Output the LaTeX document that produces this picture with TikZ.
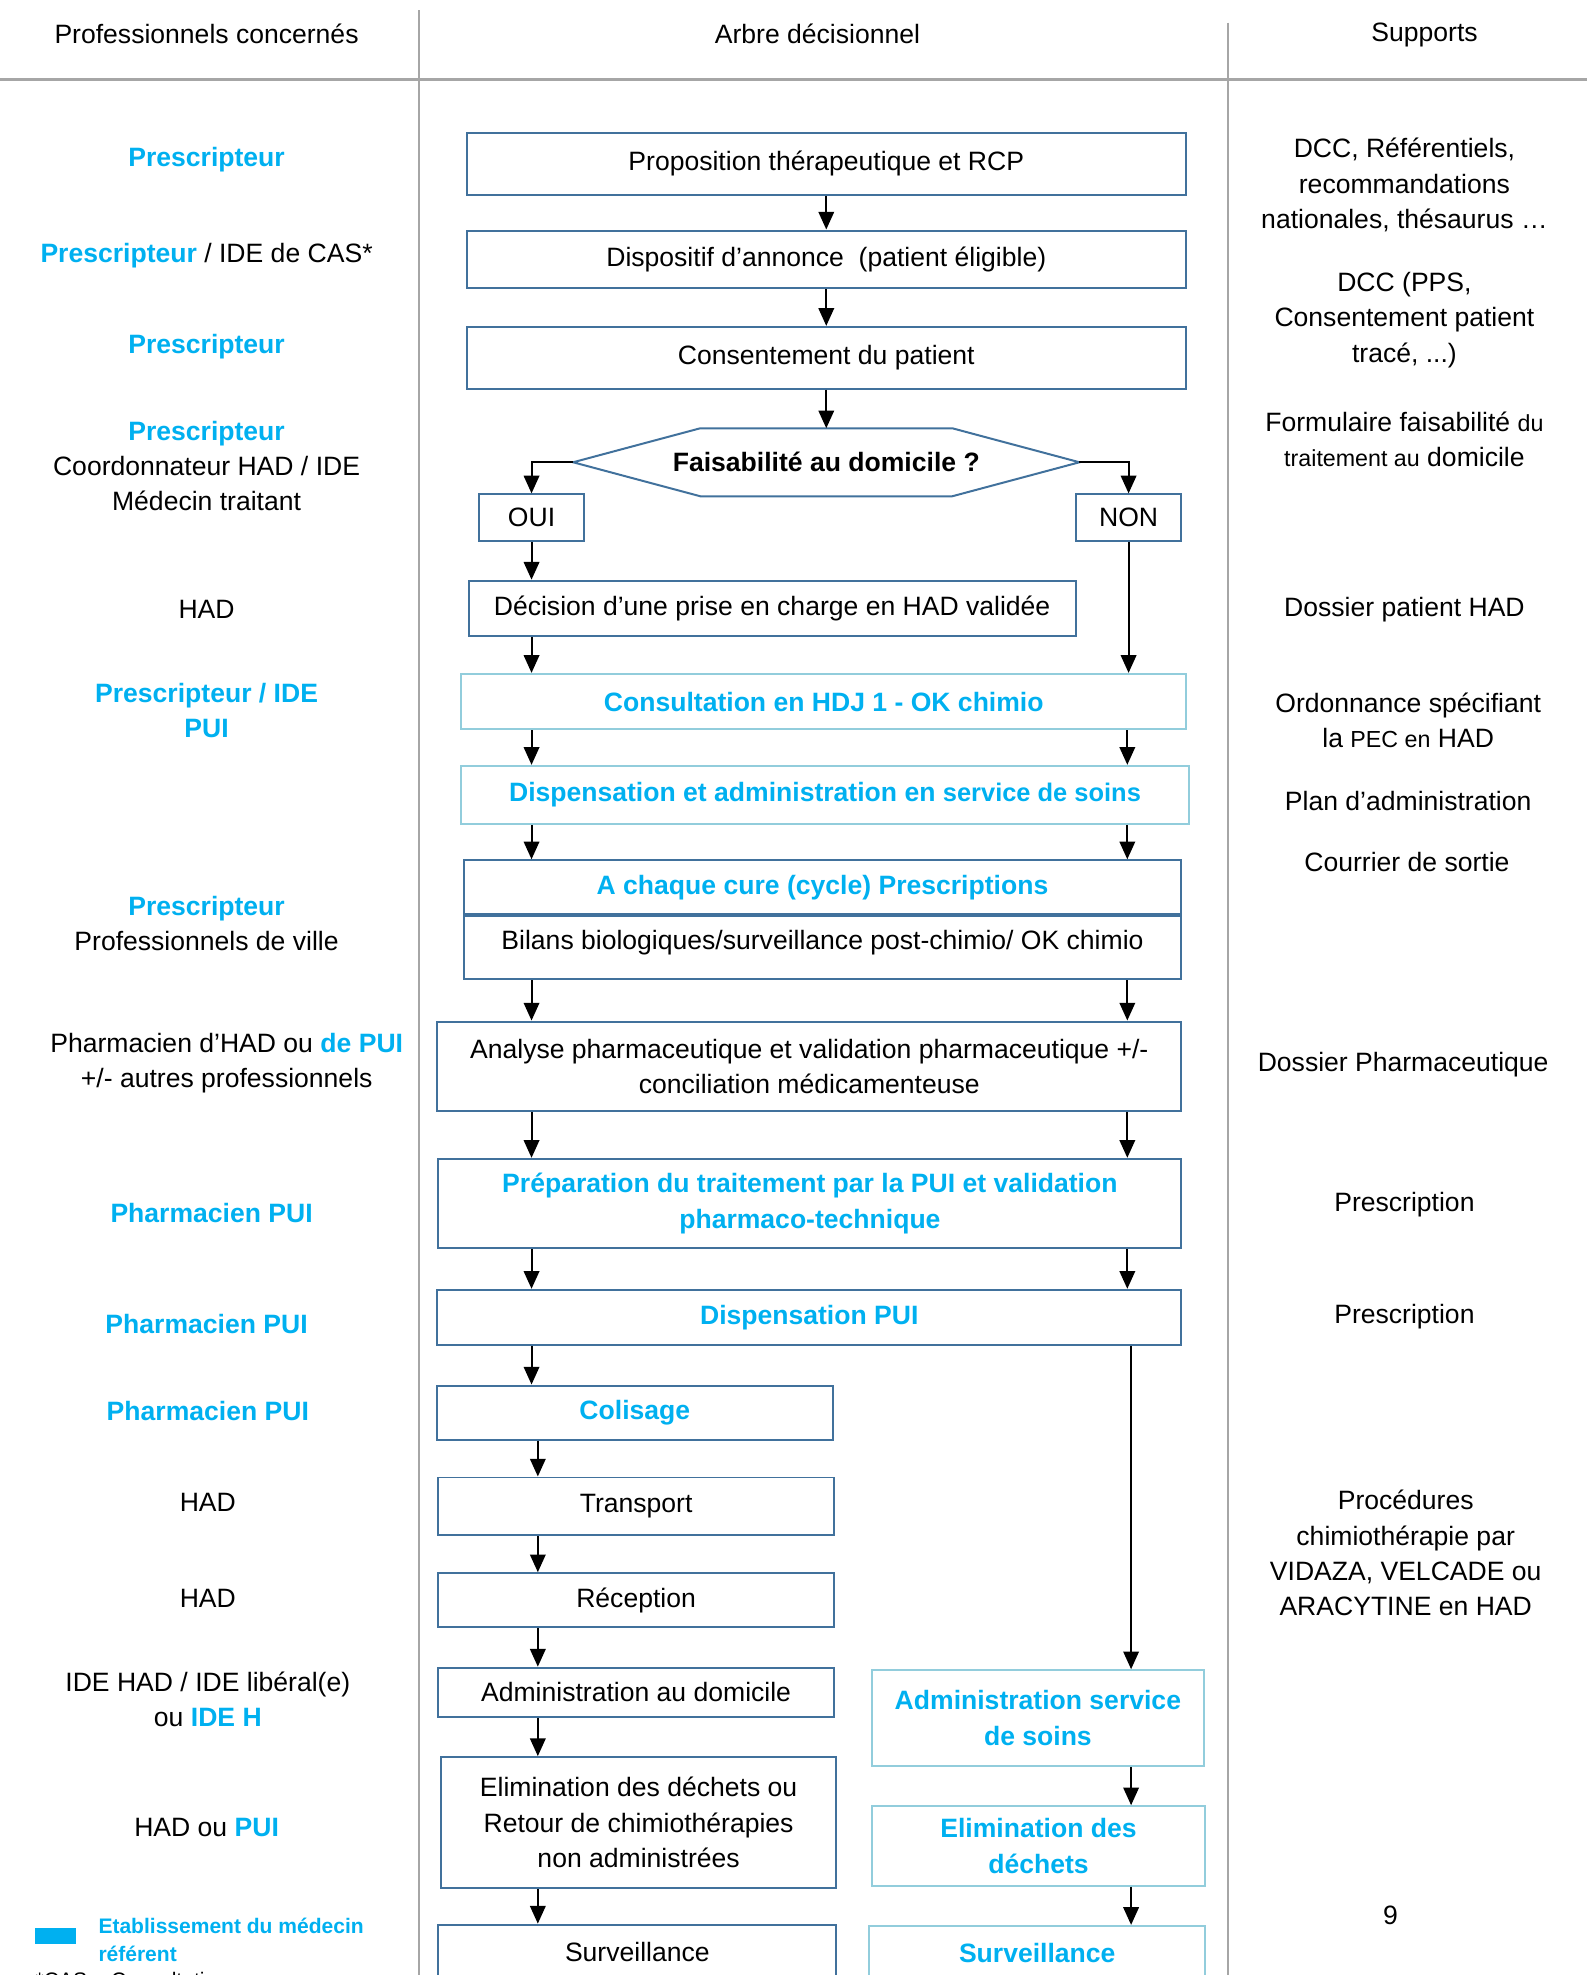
\documentclass[tikz,border=0pt]{standalone}
\usepackage{fontspec}
\setmainfont{Liberation Sans}
\usetikzlibrary{arrows.meta,calc}
\definecolor{hotblue}{HTML}{00B0F0}
\definecolor{frameblue}{HTML}{41719C}
\definecolor{softframe}{HTML}{92CDDC}
\definecolor{rulegray}{HTML}{A6A6A6}
\newcommand{\hot}[1]{\textcolor{hotblue}{\bfseries #1}}
\newcommand{\smallpart}[1]{{\fontsize{10.5}{14}\selectfont #1}}
\tikzset{
    box/.style={draw=frameblue, line width=0.9pt, inner sep=2pt, align=center,
                font=\fontsize{12}{16}\selectfont},
    softbox/.style={box, draw=softframe},
    hotbox/.style={text=hotblue, font=\fontsize{12}{16}\selectfont\bfseries},
    flow/.style={-{Triangle[length=8pt,width=7pt]}, line width=0.9pt},
    who/.style={align=center, font=\fontsize{12}{16}\selectfont},
    rule/.style={draw=rulegray, line width=0.9pt},
}

\begin{document}
\begin{tikzpicture}[x=0.02cm, y=-0.02cm]

    \useasboundingbox (0,0) rectangle (1260,1568);
    \clip (0,0) rectangle (1260,1568);

    % header and column rules
    \node[who] (hwho) at (164,27) {Professionnels concernés};
    \node[who] (htree) at (649,27) {Arbre décisionnel};
    \node[who] (hsup) at (1131,28) {Supports};
    \draw[rule, line width=1.6pt] (0,63) -- (1260,63);
    \draw[rule] (333,8) -- (333,1568);
    \draw[rule] (975,18) -- (975,1568);

    % professionals
    \node[who] (w1) at (164,127) {\hot{Prescripteur}};
    \node[who] (w2) at (164,203) {\hot{Prescripteur} / IDE de CAS*};
    \node[who] (w3) at (164,275) {\hot{Prescripteur}};
    \node[who] (w4) at (164,370) {\hot{Prescripteur}\\Coordonnateur HAD / IDE\\Médecin traitant};
    \node[who] (w5) at (164,484) {HAD};
    \node[who] (w6) at (164,564) {\hot{Prescripteur / IDE}\\\hot{PUI}};
    \node[who] (w7) at (164,733) {\hot{Prescripteur}\\Professionnels de ville};
    \node[who] (w8) at (180,844) {Pharmacien d’HAD ou \hot{de PUI}\\+/- autres professionnels};
    \node[who] (w9) at (168,963) {\hot{Pharmacien PUI}};
    \node[who] (w10) at (164,1051) {\hot{Pharmacien PUI}};
    \node[who] (w11) at (165,1120) {\hot{Pharmacien PUI}};
    \node[who] (w12) at (165,1193) {HAD};
    \node[who] (w13) at (165,1269) {HAD};
    \node[who] (w14) at (165,1349) {IDE HAD / IDE libéral(e)\\ou \hot{IDE H}};
    \node[who] (w15) at (164,1451) {HAD ou \hot{PUI}};

    % legend
    \node[fill=hotblue, minimum width=0.64cm, minimum height=0.24cm, inner sep=0pt] (legkey) at (44,1537) {};
    \node[anchor=west, align=left, text=hotblue, font=\fontsize{9.5}{12.5}\selectfont\bfseries] (legtext) at (72,1540) {Etablissement du médecin\\référent};
    \node[anchor=base west, inner sep=0pt, font=\fontsize{9.5}{12}\selectfont] (casnote) at (28,1578) {*CAS = Consultation};

    % supports
    \node[who] (s1) at (1115,147) {DCC, Référentiels,\\recommandations\\nationales, thésaurus …};
    \node[who] (s2) at (1115,254) {DCC (PPS,\\Consentement patient\\tracé, ...)};
    \node[who] (s3) at (1115,349) {Formulaire faisabilité \smallpart{du}\\\smallpart{traitement au} domicile};
    \node[who] (s4) at (1115,484) {Dossier patient HAD};
    \node[who] (s5) at (1118,572) {Ordonnance spécifiant\\la \smallpart{PEC en} HAD};
    \node[who] (s6) at (1118,636) {Plan d’administration};
    \node[who] (s7) at (1117,684) {Courrier de sortie};
    \node[who] (s8) at (1114,845) {Dossier Pharmaceutique};
    \node[who] (s9) at (1115,956) {Prescription};
    \node[who] (s10) at (1115,1045) {Prescription};
    \node[who] (s11) at (1116,1233) {Procédures\\chimiothérapie par\\VIDAZA, VELCADE ou\\ARACYTINE en HAD};
    \node[who] (pageno) at (1104,1521) {9};

    % decision tree
    \node[box, minimum width=11.42cm, minimum height=0.98cm] (prop) at (656,130) {Proposition thérapeutique et RCP};
    \node[box, minimum width=11.42cm, minimum height=0.92cm] (annonce) at (656,206) {Dispositif d’annonce\ \ (patient éligible)};
    \node[box, minimum width=11.42cm, minimum height=0.98cm] (consent) at (656,284) {Consentement du patient};
    \coordinate (hexL) at (455,367);
    \coordinate (hexR) at (857,367);
    \coordinate (hexT) at (656,340);
    \draw[draw=frameblue, line width=0.9pt] (hexL) -- (556,340) -- (756,340) -- (hexR) -- (756,394) -- (556,394) -- cycle;
    \node[font=\fontsize{12}{16}\selectfont\bfseries] (faisa) at (656,367) {Faisabilité au domicile ?};
    \node[box, minimum width=1.68cm, minimum height=0.74cm] (oui) at (422,411) {OUI};
    \node[box, minimum width=1.68cm, minimum height=0.74cm] (non) at (896,411) {NON};
    \node[box, minimum width=9.64cm, minimum height=0.88cm] (decision) at (613,483) {Décision d’une prise en charge en HAD validée};
    \node[softbox, hotbox, minimum width=11.52cm, minimum height=0.88cm] (hdj) at (654,557) {Consultation en HDJ 1 - OK chimio};
    \node[softbox, hotbox, minimum width=11.56cm, minimum height=0.92cm] (soins) at (655,631) {Dispensation et administration en {\fontsize{11.5}{14}\selectfont service de soins}};
    \node[box, hotbox, minimum width=11.4cm, minimum height=0.86cm] (cure) at (653,704.5) {A chaque cure (cycle) Prescriptions};
    \node[box, minimum width=11.4cm, minimum height=1cm, text depth=7pt, anchor=north] (bilans) at (cure.south) {Bilans biologiques/surveillance post-chimio/ OK chimio};
    \node[box, minimum width=11.82cm, minimum height=1.42cm] (analyse) at (642.5,846.5) {Analyse pharmaceutique et validation pharmaceutique +/-\\conciliation médicamenteuse};
    \node[box, hotbox, minimum width=11.8cm, minimum height=1.42cm] (prep) at (643,955.5) {Préparation du traitement par la PUI et validation\\pharmaco-technique};
    \node[box, hotbox, minimum width=11.82cm, minimum height=0.88cm] (disppui) at (642.5,1046) {Dispensation PUI};
    \node[box, hotbox, minimum width=6.28cm, minimum height=0.86cm] (colis) at (504,1121.5) {Colisage};
    \node[box, minimum width=6.28cm, minimum height=0.92cm] (transport) at (505,1196) {Transport};
    \node[box, minimum width=6.28cm, minimum height=0.86cm] (recep) at (505,1270.5) {Réception};
    \node[box, minimum width=6.28cm, minimum height=0.78cm] (admdom) at (505,1343.5) {Administration au domicile};
    \node[box, minimum width=6.28cm, minimum height=2.08cm] (elim) at (507,1447) {Elimination des déchets ou\\Retour de chimiothérapies\\non administrées};
    \node[box, minimum width=6.32cm, minimum height=0.88cm] (surv) at (506,1550) {Surveillance};
    \node[softbox, hotbox, minimum width=5.28cm, minimum height=1.52cm] (admserv) at (824,1364) {Administration service\\de soins};
    \node[softbox, hotbox, minimum width=5.3cm, minimum height=1.26cm] (elimdech) at (824.5,1465.5) {Elimination des\\déchets};
    \node[softbox, hotbox, minimum width=5.34cm, minimum height=0.86cm] (survsoin) at (823.5,1550.5) {Surveillance};

    % connectors
    \coordinate (L) at (422,0);
    \coordinate (R) at (895,0);
    \coordinate (Ld) at (427,0);
    \coordinate (Rd) at (898,0);
    \draw[flow] (prop) -- (annonce);
    \draw[flow] (annonce) -- (consent);
    \draw[flow] (consent) -- (hexT);
    \draw[flow] (hexL) -| (oui.north);
    \draw[flow] (hexR) -| (non.north);
    \draw[flow] (oui.south) -- (oui.south |- decision.north);
    \draw[flow] (non.south) -- (non.south |- hdj.north);
    \draw[flow] (decision.south -| L) -- (hdj.north -| L);
    \foreach \col in {L,R} {
        \draw[flow] (hdj.south -| \col) -- (soins.north -| \col);
        \draw[flow] (soins.south -| \col) -- (cure.north -| \col);
        \draw[flow] (bilans.south -| \col) -- (analyse.north -| \col);
        \draw[flow] (analyse.south -| \col) -- (prep.north -| \col);
        \draw[flow] (prep.south -| \col) -- (disppui.north -| \col);
    }
    \draw[flow] (disppui.south -| L) -- (colis.north -| L);
    \draw[flow] (disppui.south -| Rd) -- (admserv.north -| Rd);
    \foreach \a/\b in {colis/transport, transport/recep, recep/admdom, admdom/elim, elim/surv}
        \draw[flow] (\a.south -| Ld) -- (\b.north -| Ld);
    \draw[flow] (admserv.south -| Rd) -- (elimdech.north -| Rd);
    \draw[flow] (elimdech.south -| Rd) -- (survsoin.north -| Rd);

\end{tikzpicture}
\end{document}
